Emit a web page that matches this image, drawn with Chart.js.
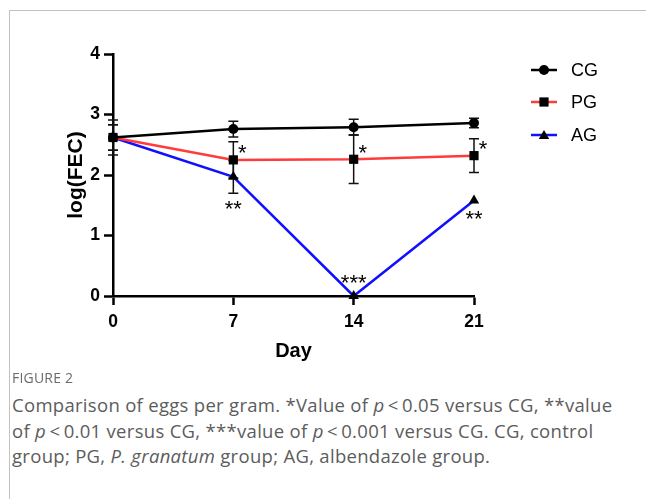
<!DOCTYPE html>
<html>
<head>
    <meta charset="utf-8">
    <title>Eggs per gram</title>
    <script src="https://cdn.jsdelivr.net/npm/chart.js"></script>
    <style>
        body { margin: 0; background: #fff; width: 646px; height: 499px; overflow: hidden; }
        #frame { position: absolute; left: 9px; top: 10px; width: 640px; height: 495px;
                 border-left: 1px solid #c2c2c2; border-top: 1px solid #c2c2c2; }
        #eggChart { position: absolute; left: 0; top: 0; }
        .figlabel { position: absolute; left: 12px; top: 368px; font-family: "Open Sans", sans-serif;
                    font-size: 14px; color: #6b6b6b; letter-spacing: 0.2px; }
        .caption { position: absolute; left: 12px; top: 392px; width: 634px; white-space: nowrap;
                   font-family: "Open Sans", sans-serif; font-size: 18.5px; line-height: 25.5px;
                   color: #5c5c5c; letter-spacing: 0.3px; }
    </style>
</head>
<body>
    <div id="frame"></div>
    <canvas id="eggChart" width="646" height="370"></canvas>
    <div class="figlabel">FIGURE 2</div>
    <div class="caption">Comparison of eggs per gram. *Value of <i>p</i>&thinsp;&lt;&thinsp;0.05 versus CG, **value<br>of <i>p</i>&thinsp;&lt;&thinsp;0.01 versus CG, ***value of <i>p</i>&thinsp;&lt;&thinsp;0.001 versus CG. CG, control<br>group; PG, <i>P. granatum</i> group; AG, albendazole group.</div>

    <script>
        // values (log FEC, mean and error)
        const days = [0, 7, 14, 21];
        const seriesNames = ['CG', 'PG', 'AG'];
        const cgMean = [2.62, 2.76, 2.79, 2.86];
        const cgErr  = [0.29, 0.13, 0.13, 0.08];
        const pgMean = [2.62, 2.25, 2.26, 2.32];
        const pgErr  = [0.21, 0.30, 0.40, 0.28];
        const agMean = [2.62, 1.97, 0, 1.58];
        const agErr  = [0.21, 0.27, 0, 0];
        const pgStars = ['', '*', '*', '*'];
        const agStars = ['', '**', '***', '**'];
        const yTicks = [0, 1, 2, 3, 4];

        const colors = ['#000000', '#ff3b3b', '#1010ff'];
        const markers = ['circle', 'rect', 'triangle'];
        const radii = [5, 6.5, 6];

        function toPoints(vals) {
            return days.map((d, i) => ({ x: d, y: vals[i] }));
        }

        function drawMarker(ctx, style, x, y, r) {
            ctx.beginPath();
            if (style === 'circle') {
                ctx.arc(x, y, r, 0, Math.PI * 2);
            } else if (style === 'rect') {
                const s = Math.SQRT1_2 * r;
                ctx.rect(x - s, y - s, 2 * s, 2 * s);
            } else {
                ctx.moveTo(x, y - r);
                ctx.lineTo(x + r * Math.sqrt(3) / 2, y + r / 2);
                ctx.lineTo(x - r * Math.sqrt(3) / 2, y + r / 2);
                ctx.closePath();
            }
            ctx.fill();
        }

        const errs = [cgErr, pgErr, agErr];
        const means = [cgMean, pgMean, agMean];

        // error bars go under the lines and markers
        const errorBars = {
            id: 'errorBars',
            beforeDatasetsDraw(chart) {
                const { ctx, scales: { x, y } } = chart;
                ctx.save();
                ctx.strokeStyle = '#111';
                ctx.lineWidth = 1.5;
                means.forEach((m, s) => {
                    m.forEach((v, i) => {
                        const e = errs[s][i];
                        if (!e) return;
                        const px = x.getPixelForValue(days[i]);
                        const top = y.getPixelForValue(v + e);
                        const bot = y.getPixelForValue(v - e);
                        ctx.beginPath();
                        ctx.moveTo(px, top); ctx.lineTo(px, bot);
                        ctx.moveTo(px - 5, top); ctx.lineTo(px + 5, top);
                        ctx.moveTo(px - 5, bot); ctx.lineTo(px + 5, bot);
                        ctx.stroke();
                    });
                });
                ctx.restore();
            }
        };

        // significance stars and the legend
        const extras = {
            id: 'extras',
            afterDraw(chart) {
                const { ctx, scales: { x, y } } = chart;
                ctx.save();
                ctx.fillStyle = '#000';
                ctx.font = '22px Arial, "Liberation Sans", sans-serif';
                ctx.textAlign = 'center';
                ctx.textBaseline = 'alphabetic';
                const lift = 12.5; // asterisk sits this far above the baseline
                days.forEach((d, i) => {
                    const px = x.getPixelForValue(d);
                    if (pgStars[i]) {
                        const py = y.getPixelForValue(pgMean[i]);
                        ctx.fillText(pgStars[i], px + 9, py - 12 + lift);
                    }
                    if (agStars[i]) {
                        const py = y.getPixelForValue(agMean[i]);
                        let cy;
                        if (agMean[i] - agErr[i] <= 0) {
                            cy = py - 19;
                        } else {
                            const low = Math.max(y.getPixelForValue(agMean[i] - agErr[i]), py + radii[2] / 2);
                            cy = low + 10;
                        }
                        ctx.fillText(agStars[i], px, cy + lift);
                    }
                });

                const rows = [70, 102, 135];
                ctx.font = '18px Arial, "Liberation Sans", sans-serif';
                ctx.textAlign = 'left';
                ctx.textBaseline = 'middle';
                seriesNames.forEach((name, s) => {
                    const ry = rows[s];
                    ctx.strokeStyle = colors[s];
                    ctx.lineWidth = 2.5;
                    ctx.beginPath();
                    ctx.moveTo(531, ry); ctx.lineTo(557, ry);
                    ctx.stroke();
                    ctx.fillStyle = '#000';
                    drawMarker(ctx, markers[s], 544, s === 2 ? ry + 1 : ry, radii[s]);
                    ctx.fillText(name, 571, ry + 1);
                });
                ctx.restore();
            }
        };

        const datasets = means.map((m, s) => ({
            label: seriesNames[s],
            data: toPoints(m),
            borderColor: colors[s],
            borderWidth: 2.5,
            pointStyle: markers[s],
            pointRadius: radii[s],
            pointBackgroundColor: '#000',
            pointBorderColor: '#000',
            pointBorderWidth: 0,
            tension: 0,
            clip: false
        }));

        const axisStyle = {
            grid: { drawOnChartArea: false, drawTicks: true, tickLength: 9, tickWidth: 2.5, tickColor: '#000' },
            border: { display: true, width: 2.5, color: '#000' }
        };

        new Chart(document.getElementById('eggChart').getContext('2d'), {
            type: 'line',
            data: { datasets },
            options: {
                responsive: false,
                animation: false,
                layout: { padding: { left: 55, right: 172, top: 54, bottom: 0 } },
                plugins: { legend: { display: false }, tooltip: { enabled: false } },
                scales: {
                    x: {
                        type: 'linear', min: 0, max: 21,
                        afterBuildTicks: s => { s.ticks = days.map(v => ({ value: v })); },
                        afterFit: s => { s.height = 74; },
                        ticks: { color: '#000', padding: 7, font: { family: 'Arial', size: 17.5, weight: 'bold' } },
                        title: { display: true, text: 'Day', color: '#000', padding: { top: 4, bottom: 7 },
                                 font: { family: 'Arial', size: 20, weight: 'bold' } },
                        ...axisStyle
                    },
                    y: {
                        min: 0, max: 4,
                        afterBuildTicks: s => { s.ticks = yTicks.map(v => ({ value: v })); },
                        afterFit: s => { s.width = 58; },
                        ticks: { color: '#000', padding: 4, font: { family: 'Arial', size: 17.5, weight: 'bold' } },
                        title: { display: true, text: 'log(FEC)', color: '#000', padding: { top: 9, bottom: 4 },
                                 font: { family: 'Arial', size: 21, weight: 'bold' } },
                        ...axisStyle
                    }
                }
            },
            plugins: [errorBars, extras]
        });
    </script>
</body>
</html>
